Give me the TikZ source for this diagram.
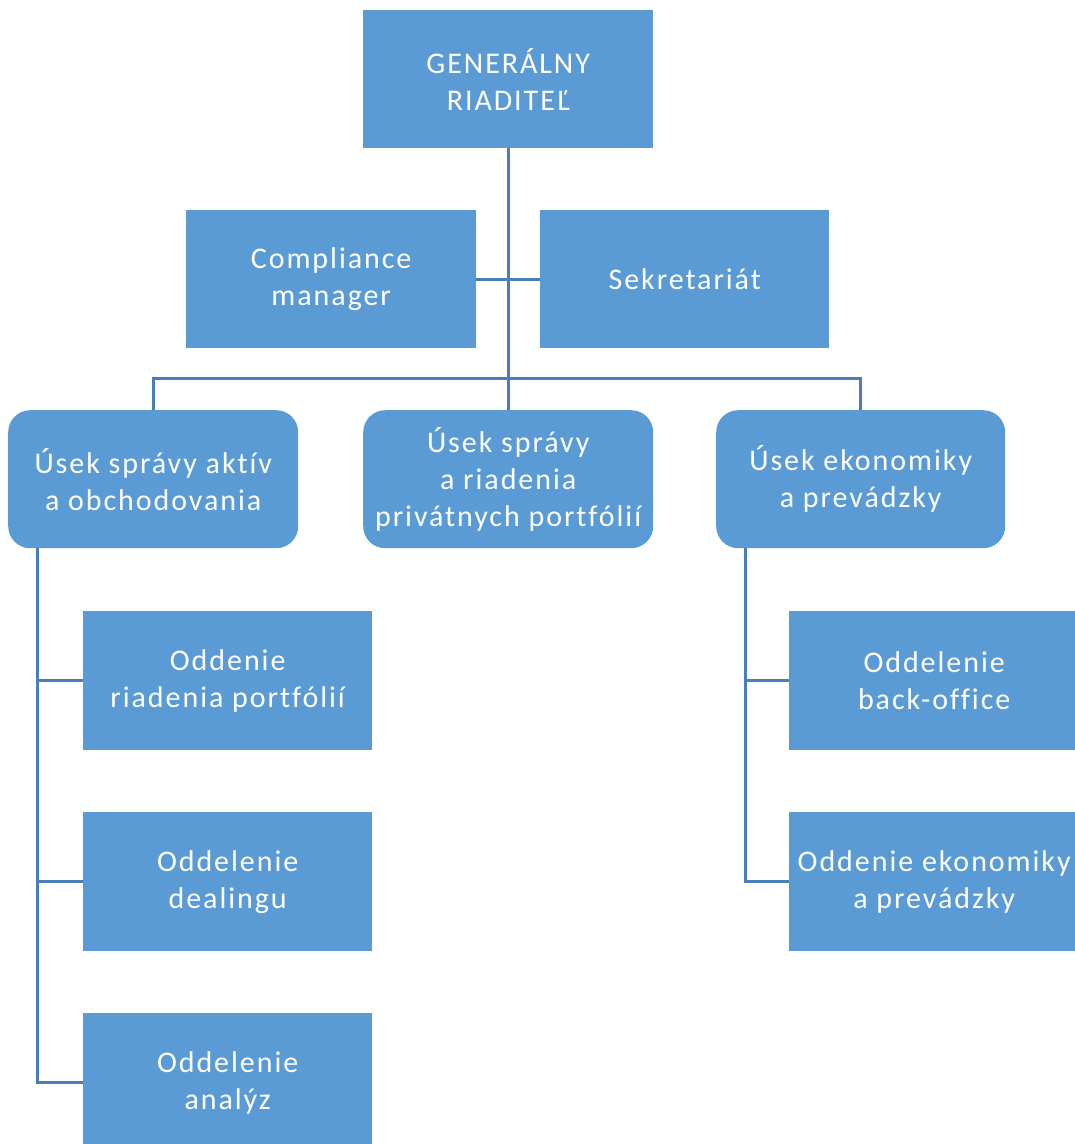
\documentclass[tikz,border=0pt]{standalone}
\usepackage{fontspec}
\setmainfont{Carlito}[LetterSpace=6.5,Ligatures=NoCommon,RawFeature={-liga;-clig;-dlig}]
\definecolor{boxfill}{HTML}{5B9BD5}
\definecolor{linecol}{HTML}{4A7EBB}
\begin{document}
\begin{tikzpicture}[x=1pt,y=-1pt,
  box/.style={fill=boxfill, draw=none, text=white, inner sep=0pt, anchor=north west,
    minimum width=290pt, minimum height=138pt, align=center,
    font=\fontsize{30}{37}\selectfont},
  rbox/.style={box, rounded corners=22pt},
  conn/.style={draw=linecol, line width=3pt}]
\useasboundingbox (0,0) rectangle (1075,1144);
\clip (0,0) rectangle (1075,1144);
\node[box] (gr) at (363,10) {GENERÁLNY\\RIADITEĽ};
\node[box] (comp) at (186,210) {Compliance\\manager};
\node[box, minimum width=289pt] (sekr) at (540,210) {Sekretariát};
\node[rbox] (u1) at (8,410) {Úsek správy aktív\\a obchodovania};
\node[rbox] (u2) at (363,410) {Úsek správy\\a riadenia\\privátnych portfólií};
\node[rbox, minimum width=289pt] (u3) at (716,410) {Úsek ekonomiky\\a prevádzky};
\node[box, minimum width=289pt, minimum height=139pt] (o1) at (83,611) {Oddenie\\riadenia portfólií};
\node[box, minimum width=289pt, minimum height=139pt] (o2) at (83,812) {Oddelenie\\dealingu};
\node[box, minimum width=289pt, minimum height=139pt] (o3) at (83,1013) {Oddelenie\\analýz};
\node[box, minimum height=139pt] (o4) at (789,611) {Oddelenie\\back-office};
\node[box, minimum height=139pt] (o5) at (789,812) {Oddenie ekonomiky\\a prevádzky};
\coordinate (bus) at (509,378);
\coordinate (lv) at (37,548);
\coordinate (rv) at (745,548);
% top trunk
\draw[conn] (gr.south) -- (gr.south |- bus);
\draw[conn] (comp.east) -- (sekr.west);
\draw[conn] (u1.north) -- (u1.north |- bus) -- (u3.north |- bus) -- (u3.north);
\draw[conn] (u2.north |- bus) -- (u2.north);
% left branch
\draw[conn] (lv) -- (lv |- o3.west) -- (o3.west);
\draw[conn] (lv |- o1.west) -- (o1.west);
\draw[conn] (lv |- o2.west) -- (o2.west);
% right branch
\draw[conn] (rv) -- (rv |- o5.west) -- (o5.west);
\draw[conn] (rv |- o4.west) -- (o4.west);
\end{tikzpicture}
\end{document}
